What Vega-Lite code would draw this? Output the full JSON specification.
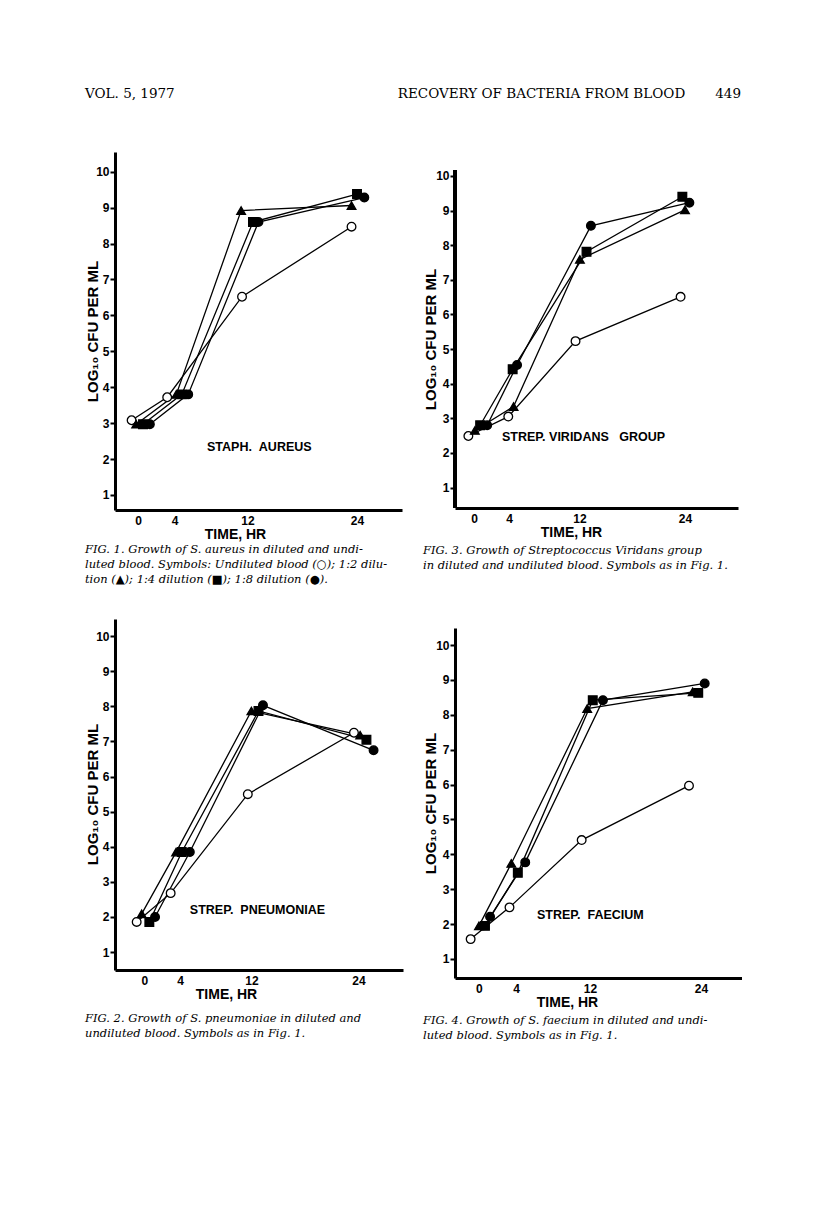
{
  "$schema": "https://vega.github.io/schema/vega-lite/v6.json",
  "background": "white",
  "padding": {"left": 85, "top": 86, "right": 0, "bottom": 0},
  "spacing": 20,
  "title": {"text": "VOL. 5, 1977\u00a0\u00a0\u00a0\u00a0\u00a0\u00a0\u00a0\u00a0\u00a0\u00a0\u00a0\u00a0\u00a0\u00a0\u00a0\u00a0\u00a0\u00a0\u00a0\u00a0\u00a0\u00a0\u00a0\u00a0\u00a0\u00a0\u00a0\u00a0\u00a0\u00a0\u00a0\u00a0\u00a0\u00a0\u00a0\u00a0\u00a0\u00a0\u00a0\u00a0\u00a0\u00a0\u00a0\u00a0\u00a0\u00a0\u00a0\u00a0\u00a0\u00a0\u00a0\u00a0RECOVERY OF BACTERIA FROM BLOOD\u00a0\u00a0\u00a0\u00a0\u00a0\u00a0\u00a0449", "orient": "top", "anchor": "start", "frame": "bounds", "font": "DejaVu Serif", "fontSize": 13.5, "fontStyle": "normal", "fontWeight": "normal", "offset": 52, "lineHeight": 13},
  "datasets": {
    "staph": [
      {"series": "Undiluted", "hr": -0.7, "logcfu": 3.08},
      {"series": "Undiluted", "hr": 3.2, "logcfu": 3.72},
      {"series": "Undiluted", "hr": 11.4, "logcfu": 6.52},
      {"series": "Undiluted", "hr": 23.4, "logcfu": 8.47},
      {"series": "1:2", "hr": -0.2, "logcfu": 2.97},
      {"series": "1:2", "hr": 4.2, "logcfu": 3.8},
      {"series": "1:2", "hr": 11.3, "logcfu": 8.92},
      {"series": "1:2", "hr": 23.4, "logcfu": 9.06},
      {"series": "1:4", "hr": 0.55, "logcfu": 2.97},
      {"series": "1:4", "hr": 4.8, "logcfu": 3.8},
      {"series": "1:4", "hr": 12.6, "logcfu": 8.6},
      {"series": "1:4", "hr": 24.0, "logcfu": 9.38},
      {"series": "1:8", "hr": 1.3, "logcfu": 2.97},
      {"series": "1:8", "hr": 5.5, "logcfu": 3.8},
      {"series": "1:8", "hr": 13.2, "logcfu": 8.6},
      {"series": "1:8", "hr": 24.8, "logcfu": 9.28}
    ],
    "viridans": [
      {"series": "Undiluted", "hr": -0.64, "logcfu": 2.49},
      {"series": "Undiluted", "hr": 3.9, "logcfu": 3.05},
      {"series": "Undiluted", "hr": 11.55, "logcfu": 5.23},
      {"series": "Undiluted", "hr": 23.5, "logcfu": 6.51},
      {"series": "1:2", "hr": 0.1, "logcfu": 2.65},
      {"series": "1:2", "hr": 4.5, "logcfu": 3.34},
      {"series": "1:2", "hr": 12.05, "logcfu": 7.59},
      {"series": "1:2", "hr": 24.0, "logcfu": 9.02},
      {"series": "1:4", "hr": 0.7, "logcfu": 2.8},
      {"series": "1:4", "hr": 4.4, "logcfu": 4.42},
      {"series": "1:4", "hr": 12.8, "logcfu": 7.81},
      {"series": "1:4", "hr": 23.7, "logcfu": 9.4},
      {"series": "1:8", "hr": 1.5, "logcfu": 2.8},
      {"series": "1:8", "hr": 4.9, "logcfu": 4.54},
      {"series": "1:8", "hr": 13.3, "logcfu": 8.56},
      {"series": "1:8", "hr": 24.5, "logcfu": 9.23}
    ],
    "pneumoniae": [
      {"series": "Undiluted", "hr": -0.86, "logcfu": 1.86},
      {"series": "Undiluted", "hr": 2.95, "logcfu": 2.68},
      {"series": "Undiluted", "hr": 11.6, "logcfu": 5.5},
      {"series": "Undiluted", "hr": 23.5, "logcfu": 7.25},
      {"series": "1:2", "hr": -0.3, "logcfu": 2.09},
      {"series": "1:2", "hr": 3.56, "logcfu": 3.85},
      {"series": "1:2", "hr": 12.0, "logcfu": 7.87},
      {"series": "1:2", "hr": 24.2, "logcfu": 7.18},
      {"series": "1:4", "hr": 0.56, "logcfu": 1.86},
      {"series": "1:4", "hr": 4.2, "logcfu": 3.85},
      {"series": "1:4", "hr": 12.8, "logcfu": 7.87},
      {"series": "1:4", "hr": 24.9, "logcfu": 7.05},
      {"series": "1:8", "hr": 1.2, "logcfu": 2.0},
      {"series": "1:8", "hr": 5.1, "logcfu": 3.85},
      {"series": "1:8", "hr": 13.3, "logcfu": 8.03},
      {"series": "1:8", "hr": 25.7, "logcfu": 6.75}
    ],
    "faecium": [
      {"series": "Undiluted", "hr": -0.9, "logcfu": 1.57},
      {"series": "Undiluted", "hr": 3.3, "logcfu": 2.48},
      {"series": "Undiluted", "hr": 11.1, "logcfu": 4.41},
      {"series": "Undiluted", "hr": 22.7, "logcfu": 5.97},
      {"series": "1:2", "hr": 0.0, "logcfu": 1.95},
      {"series": "1:2", "hr": 3.5, "logcfu": 3.74},
      {"series": "1:2", "hr": 11.7, "logcfu": 8.18},
      {"series": "1:2", "hr": 23.1, "logcfu": 8.66},
      {"series": "1:4", "hr": 0.65, "logcfu": 1.95},
      {"series": "1:4", "hr": 4.2, "logcfu": 3.47},
      {"series": "1:4", "hr": 12.3, "logcfu": 8.42},
      {"series": "1:4", "hr": 23.7, "logcfu": 8.63},
      {"series": "1:8", "hr": 1.2, "logcfu": 2.21},
      {"series": "1:8", "hr": 5.0, "logcfu": 3.77},
      {"series": "1:8", "hr": 13.4, "logcfu": 8.42},
      {"series": "1:8", "hr": 24.4, "logcfu": 8.9}
    ]
  },
  "hconcat": [
    {
      "spacing": 33,
      "vconcat": [
        {
          "width": 287, "height": 358,
          "data": {"name": "staph"},
          "title": {"text": ["\u00a0\u00a0FIG. 1. Growth of S. aureus in diluted and undi-", "luted blood. Symbols: Undiluted blood (\u25cb); 1:2 dilu-", "tion (\u25b2); 1:4 dilution (\u25a0); 1:8 dilution (\u25cf)."], "orient": "bottom", "anchor": "start", "frame": "bounds", "offset": 3},
          "encoding": {
            "x": {"field": "hr", "type": "quantitative", "scale": {"domain": [-2.52, 28.93], "nice": false, "zero": false}, "axis": {"values": [0, 4, 12, 24], "title": "TIME, HR", "titleX": 120, "titleAlign": "center"}},
            "y": {"field": "logcfu", "type": "quantitative", "scale": {"domain": [0.58, 10.55], "nice": false, "zero": false}, "axis": {"values": [1, 2, 3, 4, 5, 6, 7, 8, 9, 10], "title": "LOG\u2081\u2080 CFU PER ML", "titleX": -15, "titleY": 179}}
          },
          "layer": [
            {"mark": {"type": "line", "color": "black", "strokeWidth": 1.3}, "encoding": {"detail": {"field": "series"}}},
            {"mark": {"type": "point", "filled": true, "stroke": "black", "strokeWidth": 1.3, "size": 75, "opacity": 1},
             "encoding": {
               "shape": {"field": "series", "type": "nominal", "scale": {"domain": ["Undiluted", "1:2", "1:4", "1:8"], "range": ["circle", "triangle-up", "square", "circle"]}, "legend": null},
               "fill": {"field": "series", "type": "nominal", "scale": {"domain": ["Undiluted", "1:2", "1:4", "1:8"], "range": ["white", "black", "black", "black"]}, "legend": null}
             }},
            {"data": {"values": [{"hr": 7.56, "logcfu": 2.34, "label": "STAPH.\u00a0\u00a0AUREUS"}]},
             "mark": {"type": "text", "align": "left", "baseline": "middle", "font": "Liberation Sans, sans-serif", "fontWeight": "bold", "fontSize": 12.5, "color": "black"},
             "encoding": {"text": {"field": "label"}}}
          ]
        },
        {
          "width": 288, "height": 351,
          "data": {"name": "pneumoniae"},
          "title": {"text": ["\u00a0\u00a0FIG. 2. Growth of S. pneumoniae in diluted and", "undiluted blood. Symbols as in Fig. 1."], "orient": "bottom", "anchor": "start", "frame": "bounds", "offset": 12},
          "encoding": {
            "x": {"field": "hr", "type": "quantitative", "scale": {"domain": [-3.29, 29.0], "nice": false, "zero": false}, "axis": {"values": [0, 4, 12, 24], "title": "TIME, HR", "titleX": 111, "titleAlign": "center"}},
            "y": {"field": "logcfu", "type": "quantitative", "scale": {"domain": [0.49, 10.49], "nice": false, "zero": false}, "axis": {"values": [1, 2, 3, 4, 5, 6, 7, 8, 9, 10], "title": "LOG\u2081\u2080 CFU PER ML", "titleX": -15, "titleY": 175}}
          },
          "layer": [
            {"mark": {"type": "line", "color": "black", "strokeWidth": 1.3}, "encoding": {"detail": {"field": "series"}}},
            {"mark": {"type": "point", "filled": true, "stroke": "black", "strokeWidth": 1.3, "size": 75, "opacity": 1},
             "encoding": {
               "shape": {"field": "series", "type": "nominal", "scale": {"domain": ["Undiluted", "1:2", "1:4", "1:8"], "range": ["circle", "triangle-up", "square", "circle"]}, "legend": null},
               "fill": {"field": "series", "type": "nominal", "scale": {"domain": ["Undiluted", "1:2", "1:4", "1:8"], "range": ["white", "black", "black", "black"]}, "legend": null}
             }},
            {"data": {"values": [{"hr": 5.1, "logcfu": 2.2, "label": "STREP.\u00a0\u00a0PNEUMONIAE"}]},
             "mark": {"type": "text", "align": "left", "baseline": "middle", "font": "Liberation Sans, sans-serif", "fontWeight": "bold", "fontSize": 12.5, "color": "black"},
             "encoding": {"text": {"field": "label"}}}
          ]
        }
      ]
    },
    {
      "spacing": 56,
      "vconcat": [
        {
          "width": 283, "height": 356,
          "data": {"name": "viridans"},
          "title": {"text": ["\u00a0\u00a0FIG. 3. Growth of Streptococcus Viridans group", "in diluted and undiluted blood. Symbols as in Fig. 1."], "orient": "bottom", "anchor": "start", "frame": "bounds", "offset": 6},
          "encoding": {
            "x": {"field": "hr", "type": "quantitative", "scale": {"domain": [-2.16, 30.03], "nice": false, "zero": false}, "axis": {"values": [0, 4, 12, 24], "title": "TIME, HR", "titleX": 116, "titleAlign": "center"}},
            "y": {"field": "logcfu", "type": "quantitative", "scale": {"domain": [0.41, 10.693], "nice": false, "zero": false}, "axis": {"values": [1, 2, 3, 4, 5, 6, 7, 8, 9, 10], "title": "LOG\u2081\u2080 CFU PER ML", "titleX": -17, "titleY": 187, "domain": false}}
          },
          "layer": [
            {"mark": {"type": "rule", "color": "black", "strokeWidth": 3},
             "encoding": {"x": {"datum": -2.16, "type": "quantitative"}, "y": {"datum": 0.41, "type": "quantitative"}, "y2": {"datum": 10.17}}},
            {"mark": {"type": "line", "color": "black", "strokeWidth": 1.3}, "encoding": {"detail": {"field": "series"}}},
            {"mark": {"type": "point", "filled": true, "stroke": "black", "strokeWidth": 1.3, "size": 75, "opacity": 1},
             "encoding": {
               "shape": {"field": "series", "type": "nominal", "scale": {"domain": ["Undiluted", "1:2", "1:4", "1:8"], "range": ["circle", "triangle-up", "square", "circle"]}, "legend": null},
               "fill": {"field": "series", "type": "nominal", "scale": {"domain": ["Undiluted", "1:2", "1:4", "1:8"], "range": ["white", "black", "black", "black"]}, "legend": null}
             }},
            {"data": {"values": [{"hr": 3.19, "logcfu": 2.46, "label": "STREP. VIRIDANS\u00a0\u00a0\u00a0GROUP"}]},
             "mark": {"type": "text", "align": "left", "baseline": "middle", "font": "Liberation Sans, sans-serif", "fontWeight": "bold", "fontSize": 12.5, "color": "black"},
             "encoding": {"text": {"field": "label"}}}
          ]
        },
        {
          "width": 287, "height": 350,
          "data": {"name": "faecium"},
          "title": {"text": ["\u00a0\u00a0FIG. 4. Growth of S. faecium in diluted and undi-", "luted blood. Symbols as in Fig. 1."], "orient": "bottom", "anchor": "start", "frame": "bounds", "offset": 6},
          "encoding": {
            "x": {"field": "hr", "type": "quantitative", "scale": {"domain": [-2.59, 28.43], "nice": false, "zero": false}, "axis": {"values": [0, 4, 12, 24], "title": "TIME, HR", "titleX": 112, "titleAlign": "center"}},
            "y": {"field": "logcfu", "type": "quantitative", "scale": {"domain": [0.455, 10.49], "nice": false, "zero": false}, "axis": {"values": [1, 2, 3, 4, 5, 6, 7, 8, 9, 10], "title": "LOG\u2081\u2080 CFU PER ML", "titleX": -17, "titleY": 175}}
          },
          "layer": [
            {"mark": {"type": "line", "color": "black", "strokeWidth": 1.3}, "encoding": {"detail": {"field": "series"}}},
            {"mark": {"type": "point", "filled": true, "stroke": "black", "strokeWidth": 1.3, "size": 75, "opacity": 1},
             "encoding": {
               "shape": {"field": "series", "type": "nominal", "scale": {"domain": ["Undiluted", "1:2", "1:4", "1:8"], "range": ["circle", "triangle-up", "square", "circle"]}, "legend": null},
               "fill": {"field": "series", "type": "nominal", "scale": {"domain": ["Undiluted", "1:2", "1:4", "1:8"], "range": ["white", "black", "black", "black"]}, "legend": null}
             }},
            {"data": {"values": [{"hr": 6.27, "logcfu": 2.26, "label": "STREP.\u00a0\u00a0FAECIUM"}]},
             "mark": {"type": "text", "align": "left", "baseline": "middle", "font": "Liberation Sans, sans-serif", "fontWeight": "bold", "fontSize": 12.5, "color": "black"},
             "encoding": {"text": {"field": "label"}}}
          ]
        }
      ]
    }
  ],
  "config": {
    "view": {"stroke": null},
    "axis": {"grid": false, "domainColor": "black", "domainWidth": 3, "tickColor": "black", "tickWidth": 2, "labelColor": "black", "titleColor": "black", "labelFont": "Liberation Sans Narrow, Liberation Sans, sans-serif", "labelFontWeight": "bold", "labelFontSize": 12, "titleFont": "Liberation Sans, DejaVu Sans, sans-serif", "titleFontWeight": "bold", "titleFontSize": 15, "labelFlush": false, "labelOverlap": false},
    "axisX": {"ticks": false, "labelPadding": 5, "titlePadding": 1, "titleFontSize": 14},
    "axisY": {"tickSize": 5, "labelPadding": 1, "titlePadding": 3},
    "title": {"font": "DejaVu Serif", "fontStyle": "italic", "fontWeight": "normal", "fontSize": 11.5, "lineHeight": 15, "color": "black"}
  }
}
